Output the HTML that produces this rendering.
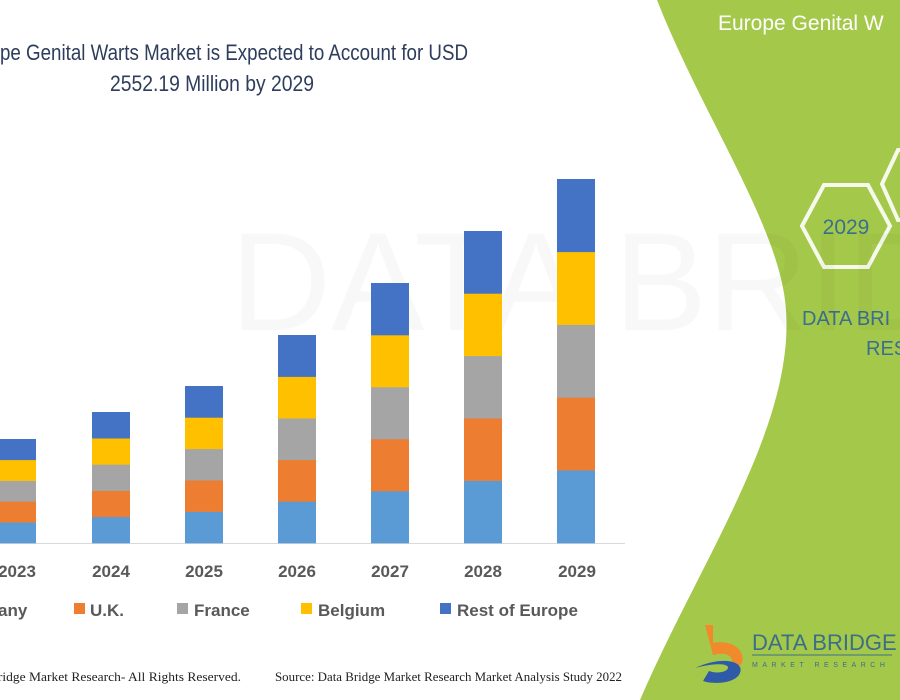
<!DOCTYPE html>
<html><head><meta charset="utf-8"><style>
body{margin:0;width:900px;height:700px;overflow:hidden;background:#fff;font-family:"Liberation Sans",sans-serif}
</style></head><body>
<svg width="900" height="700" xmlns="http://www.w3.org/2000/svg" style="position:absolute;left:0;top:0">
<path d="M657,0 L900,0 L900,700 L640,700 C700,560 800,420 785,300 C775,220 700,110 657,0 Z" fill="#a4c84a"/>
<text x="718" y="30" font-size="21" fill="#fff">Europe Genital W</text>
<polygon points="802,226 824,185 868,185 890,226 868,267 824,267" fill="none" stroke="#fff" stroke-width="4" opacity="0.9"/>
<path d="M900,150 L898,150 L882,184 L898,220 L900,220" fill="none" stroke="#fff" stroke-width="4" opacity="0.9"/>
<text x="846" y="234" font-size="21" fill="#3a6f8f" text-anchor="middle">2029</text>
<text x="802" y="325" font-size="20" fill="#3a6f8f">DATA BRI</text>
<text x="866" y="355" font-size="20" fill="#3a6f8f">RES</text>
<g opacity="0.025" font-size="140" fill="#000"><text x="230" y="330">DATA BRIDGE</text></g>
<text x="0" y="60" font-size="22" fill="#2e3d5c" textLength="468" lengthAdjust="spacingAndGlyphs">pe Genital Warts Market is Expected to Account for USD</text>
<text x="110" y="91" font-size="22" fill="#2e3d5c" textLength="204" lengthAdjust="spacingAndGlyphs">2552.19 Million by 2029</text>
<line x1="0" y1="543.5" x2="625" y2="543.5" stroke="#d9d9d9" stroke-width="1"/>
<g id="bars"></g>
<g font-size="17" font-weight="bold" fill="#595959" text-anchor="middle">
<text x="17" y="577">2023</text><text x="111" y="577">2024</text><text x="204" y="577">2025</text><text x="297" y="577">2026</text><text x="390" y="577">2027</text><text x="483" y="577">2028</text><text x="577" y="577">2029</text>
</g>
<g font-size="17" font-weight="bold" fill="#595959">
<text x="-2" y="616">any</text>
<rect x="74" y="603" width="11" height="11" fill="#ed7d31"/><text x="90" y="616">U.K.</text>
<rect x="177" y="603" width="11" height="11" fill="#a5a5a5"/><text x="194" y="616">France</text>
<rect x="301" y="603" width="11" height="11" fill="#ffc000"/><text x="318" y="616">Belgium</text>
<rect x="440" y="603" width="11" height="11" fill="#4472c4"/><text x="457" y="616">Rest of Europe</text>
</g>
<text x="-40" y="681" font-size="13" fill="#222" font-family="Liberation Serif" textLength="281" lengthAdjust="spacingAndGlyphs">Data Bridge Market Research- All Rights Reserved.</text>
<text x="275" y="681" font-size="13" fill="#222" font-family="Liberation Serif" textLength="347" lengthAdjust="spacingAndGlyphs">Source: Data Bridge Market Research Market Analysis Study 2022</text>
<path d="M705,625 h8 v18 c22,-4 34,10 28,22 l-10,0 c4,-8 -4,-14 -18,-10 z" fill="#f08a2c"/>
<path d="M695,668 c25,-12 50,-8 45,5 c-4,10 -25,12 -37,8 l6,-10 c8,3 18,1 19,-3 c1,-5 -15,-5 -33,0 z" fill="#2e5aa8"/>
<text x="752" y="650" font-size="22" fill="#3c6e8a">DATA BRIDGE</text>
<line x1="752" y1="655" x2="892" y2="655" stroke="#3c6e8a" stroke-width="1"/>
<text x="752" y="667" font-size="7" fill="#3c6e8a" letter-spacing="4.5">MARKET RESEARCH</text>
</svg>
<script>
var xs=[-2,92,185,278,371,464,557],tops=[439,412,386,335,283,231,179],c=["#5b9bd5","#ed7d31","#a5a5a5","#ffc000","#4472c4"],s="";
for(var i=0;i<7;i++){var h=(543-tops[i])/5;for(var j=0;j<5;j++){s+='<rect x="'+xs[i]+'" y="'+(543-h*(j+1))+'" width="38" height="'+(h+0.3)+'" fill="'+c[j]+'"/>';}}
document.getElementById("bars").innerHTML=s;
</script>
</body></html>
